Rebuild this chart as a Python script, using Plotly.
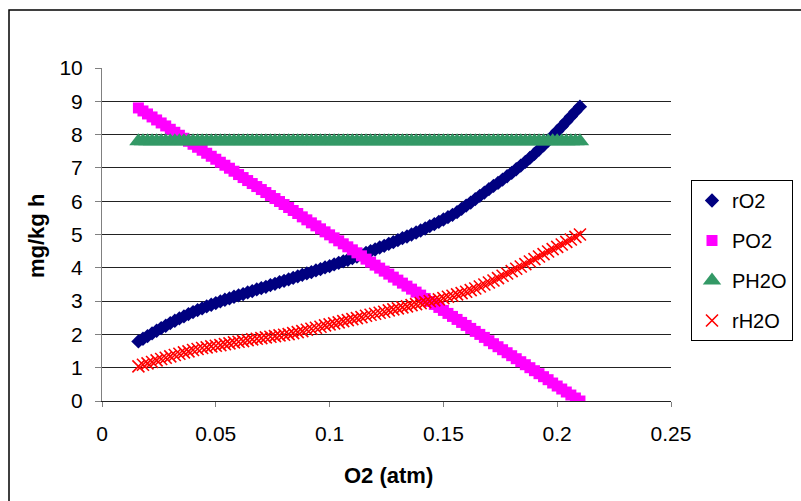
import plotly.graph_objects as go

# O2 partial pressure (atm)
o2_atm = [
    0.016, 0.018, 0.020, 0.022, 0.024, 0.026, 0.028, 0.030, 0.032, 0.034,
    0.036, 0.038, 0.040, 0.042, 0.044, 0.046, 0.048, 0.050, 0.052, 0.054,
    0.056, 0.058, 0.060, 0.062, 0.064, 0.066, 0.068, 0.070, 0.072, 0.074,
    0.076, 0.078, 0.080, 0.082, 0.084, 0.086, 0.088, 0.090, 0.092, 0.094,
    0.096, 0.098, 0.100, 0.102, 0.104, 0.106, 0.108, 0.110, 0.112, 0.114,
    0.116, 0.118, 0.120, 0.122, 0.124, 0.126, 0.128, 0.130, 0.132, 0.134,
    0.136, 0.138, 0.140, 0.142, 0.144, 0.146, 0.148, 0.150, 0.152, 0.154,
    0.156, 0.158, 0.160, 0.162, 0.164, 0.166, 0.168, 0.170, 0.172, 0.174,
    0.176, 0.178, 0.180, 0.182, 0.184, 0.186, 0.188, 0.190, 0.192, 0.194,
    0.196, 0.198, 0.200, 0.202, 0.204, 0.206, 0.208, 0.210,
]

# O2 respiration rate (mg/kg h)
r_o2 = [
    1.79, 1.87, 1.95, 2.03, 2.11, 2.19, 2.26, 2.34, 2.41, 2.48,
    2.54, 2.61, 2.67, 2.73, 2.78, 2.84, 2.89, 2.94, 2.99, 3.04,
    3.08, 3.13, 3.17, 3.21, 3.26, 3.30, 3.35, 3.39, 3.43, 3.48,
    3.52, 3.57, 3.61, 3.65, 3.70, 3.74, 3.79, 3.83, 3.87, 3.92,
    3.96, 4.01, 4.05, 4.10, 4.15, 4.19, 4.24, 4.29, 4.34, 4.39,
    4.45, 4.50, 4.55, 4.61, 4.66, 4.72, 4.77, 4.83, 4.89, 4.94,
    5.00, 5.06, 5.12, 5.18, 5.25, 5.31, 5.38, 5.45, 5.52, 5.59,
    5.67, 5.77, 5.87, 5.96, 6.06, 6.16, 6.26, 6.36, 6.46, 6.55,
    6.65, 6.75, 6.85, 6.96, 7.07, 7.18, 7.30, 7.42, 7.55, 7.68,
    7.82, 7.96, 8.10, 8.24, 8.39, 8.54, 8.69, 8.84,
]

# O2 permeation through the film (mg/kg h)
p_o2 = [
    8.80, 8.71, 8.62, 8.53, 8.44, 8.35, 8.26, 8.16, 8.07, 7.98,
    7.89, 7.80, 7.71, 7.62, 7.53, 7.44, 7.35, 7.26, 7.17, 7.08,
    6.99, 6.90, 6.80, 6.71, 6.62, 6.53, 6.44, 6.35, 6.26, 6.17,
    6.08, 5.99, 5.90, 5.81, 5.72, 5.63, 5.53, 5.44, 5.35, 5.26,
    5.17, 5.08, 4.99, 4.90, 4.81, 4.72, 4.63, 4.54, 4.45, 4.36,
    4.26, 4.17, 4.08, 3.99, 3.90, 3.81, 3.72, 3.63, 3.54, 3.45,
    3.36, 3.27, 3.18, 3.08, 2.99, 2.90, 2.81, 2.72, 2.63, 2.54,
    2.45, 2.36, 2.27, 2.18, 2.09, 2.00, 1.91, 1.81, 1.72, 1.63,
    1.54, 1.45, 1.36, 1.27, 1.18, 1.09, 1.00, 0.91, 0.82, 0.73,
    0.64, 0.54, 0.45, 0.36, 0.27, 0.18, 0.09, 0.00,
]

# H2O permeation through the film (mg/kg h)
p_h2o = [
    7.80, 7.80, 7.80, 7.80, 7.80, 7.80, 7.80, 7.80, 7.80, 7.80,
    7.80, 7.80, 7.80, 7.80, 7.80, 7.80, 7.80, 7.80, 7.80, 7.80,
    7.80, 7.80, 7.80, 7.80, 7.80, 7.80, 7.80, 7.80, 7.80, 7.80,
    7.80, 7.80, 7.80, 7.80, 7.80, 7.80, 7.80, 7.80, 7.80, 7.80,
    7.80, 7.80, 7.80, 7.80, 7.80, 7.80, 7.80, 7.80, 7.80, 7.80,
    7.80, 7.80, 7.80, 7.80, 7.80, 7.80, 7.80, 7.80, 7.80, 7.80,
    7.80, 7.80, 7.80, 7.80, 7.80, 7.80, 7.80, 7.80, 7.80, 7.80,
    7.80, 7.80, 7.80, 7.80, 7.80, 7.80, 7.80, 7.80, 7.80, 7.80,
    7.80, 7.80, 7.80, 7.80, 7.80, 7.80, 7.80, 7.80, 7.80, 7.80,
    7.80, 7.80, 7.80, 7.80, 7.80, 7.80, 7.80, 7.80,
]

# H2O transpiration rate (mg/kg h)
r_h2o = [
    1.04, 1.09, 1.13, 1.17, 1.22, 1.26, 1.30, 1.34, 1.38, 1.42,
    1.46, 1.49, 1.53, 1.56, 1.59, 1.61, 1.64, 1.66, 1.68, 1.71,
    1.73, 1.76, 1.78, 1.80, 1.83, 1.85, 1.87, 1.89, 1.91, 1.93,
    1.95, 1.97, 1.99, 2.01, 2.04, 2.07, 2.10, 2.14, 2.17, 2.20,
    2.23, 2.27, 2.30, 2.33, 2.36, 2.40, 2.43, 2.46, 2.49, 2.52,
    2.56, 2.59, 2.62, 2.65, 2.68, 2.72, 2.75, 2.78, 2.81, 2.84,
    2.88, 2.91, 2.94, 2.97, 3.00, 3.02, 3.05, 3.09, 3.13, 3.16,
    3.20, 3.24, 3.28, 3.33, 3.38, 3.44, 3.50, 3.56, 3.62, 3.69,
    3.76, 3.83, 3.90, 3.97, 4.04, 4.11, 4.19, 4.26, 4.34, 4.41,
    4.49, 4.56, 4.63, 4.70, 4.78, 4.85, 4.93, 5.00,
]

x_ticks = [0, 0.05, 0.1, 0.15, 0.2, 0.25]
x_tick_text = ["0", "0.05", "0.1", "0.15", "0.2", "0.25"]
y_ticks = [0, 1, 2, 3, 4, 5, 6, 7, 8, 9, 10]

FONT = "Arial, Liberation Sans, sans-serif"

fig = go.Figure()

fig.add_trace(go.Scatter(
    x=o2_atm, y=r_o2, name="rO2", mode="markers", legendgroup="a",
    marker=dict(symbol="diamond", size=11, color="#000080"),
))
fig.add_trace(go.Scatter(
    x=o2_atm, y=p_o2, name="PO2", mode="markers", legendgroup="b",
    marker=dict(symbol="square", size=11, color="#FF00FF"),
))
fig.add_trace(go.Scatter(
    x=o2_atm, y=p_h2o, name="PH2O", mode="markers", legendgroup="c",
    marker=dict(symbol="triangle-up", size=16, color="#339966"),
))
fig.add_trace(go.Scatter(
    x=o2_atm, y=r_h2o, name="rH2O", mode="markers", legendgroup="d",
    marker=dict(symbol="x-thin", size=12, color="#FF0000",
                line=dict(color="#FF0000", width=1.6)),
))

L, R, T, B = 102, 130, 68, 100
W, H = 801, 501
pw, ph = W - L - R, H - T - B


def px_x(px):
    return (px - L) / pw


def px_y(py):
    return (H - B - py) / ph


fig.update_layout(
    width=W, height=H,
    margin=dict(l=L, r=R, t=T, b=B, pad=0, autoexpand=False),
    paper_bgcolor="white", plot_bgcolor="white",
    font=dict(family=FONT, size=21, color="black"),
    showlegend=True,
    legend=dict(
        x=px_x(691), y=px_y(180), xanchor="left", yanchor="top",
        bordercolor="black", borderwidth=1, bgcolor="white",
        font=dict(family=FONT, size=20, color="black"),
        tracegroupgap=11, traceorder="grouped", itemwidth=30,
    ),
    xaxis=dict(
        range=[0, 0.25], tickvals=x_ticks, ticktext=x_tick_text,
        showgrid=False, zeroline=False,
        showline=True, linecolor="#222222", linewidth=1,
        ticks="outside", ticklen=5, tickcolor="#808080", tickwidth=1,
        ticklabelstandoff=9,
        tickfont=dict(family=FONT, size=21, color="black"),
    ),
    yaxis=dict(
        range=[0, 10], tickvals=y_ticks,
        showgrid=True, gridcolor="#222222", gridwidth=1, zeroline=False,
        showline=True, linecolor="#808080", linewidth=1,
        ticks="outside", ticklen=6, tickcolor="#808080", tickwidth=1,
        ticklabelstandoff=8,
        tickfont=dict(family=FONT, size=21, color="black"),
    ),
    annotations=[
        dict(text="<b>O2 (atm)</b>", xref="paper", yref="paper",
             x=px_x(388), y=px_y(475), xanchor="center", yanchor="middle",
             showarrow=False, font=dict(family=FONT, size=22, color="black")),
        dict(text="<b>mg/kg h</b>", xref="paper", yref="paper",
             x=px_x(37), y=px_y(236), xanchor="center", yanchor="middle",
             textangle=-90, showarrow=False,
             font=dict(family=FONT, size=22, color="black")),
    ],
    shapes=[
        dict(type="rect", xref="paper", yref="paper",
             x0=px_x(9), x1=px_x(812), y0=px_y(512), y1=px_y(10),
             line=dict(color="black", width=1.5), fillcolor="rgba(0,0,0,0)",
             layer="below"),
    ],
)

fig.write_html("out.html")
